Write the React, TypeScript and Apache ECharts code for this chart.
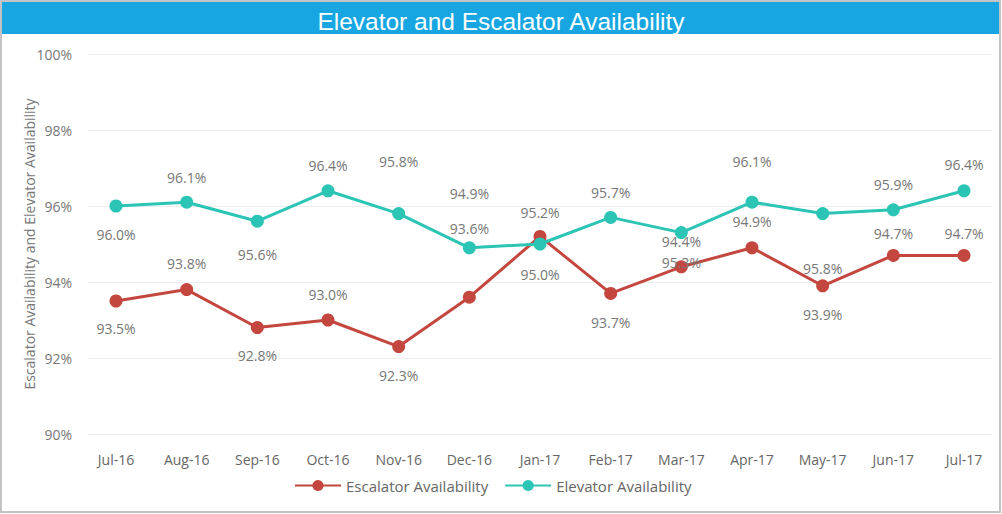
import React, { useEffect, useRef } from "react";
import * as echarts from "echarts";

const months = ["Jul-16", "Aug-16", "Sep-16", "Oct-16", "Nov-16", "Dec-16", "Jan-17", "Feb-17", "Mar-17", "Apr-17", "May-17", "Jun-17", "Jul-17"];
const escalator = [93.5, 93.8, 92.8, 93.0, 92.3, 93.6, 95.2, 93.7, 94.4, 94.9, 93.9, 94.7, 94.7];
const elevator = [96.0, 96.1, 95.6, 96.4, 95.8, 94.9, 95.0, 95.7, 95.3, 96.1, 95.8, 95.9, 96.4];
const yTicks = { min: 90, max: 100, step: 2 };

// label placement (px from point centre, negative = above)
const escalatorLabelOffsets = [27, -26, 28, -26, 29, -69, -24, 29, -25, -26, 29, -22, -22];
const elevatorLabelOffsets = [28, -25, 33, -25, -52, -54, 30, -25, 30, -41, 55, -25, -26];

const RED = "#C4473F";
const TEAL = "#2BC4B5";
const FONT = "'Open Sans', 'Noto Sans', sans-serif";

function mkData(vals: number[], offs: number[]) {
  return vals.map((v, i) => ({
    value: v,
    label: { offset: [0, offs[i]] },
  }));
}

export default function App() {
  const ref = useRef<HTMLDivElement>(null);
  useEffect(() => {
    if (!ref.current) return;
    const chart = echarts.init(ref.current, undefined, { renderer: "svg" });
    const labelStyle = {
      show: true,
      position: "inside",
      color: "#777777",
      fontSize: 14,
      fontFamily: FONT,
      formatter: (p: any) => p.value.toFixed(1) + "%",
    };
    chart.setOption({
      animation: false,
      backgroundColor: "#ffffff",
      textStyle: { fontFamily: FONT },
      title: {
        text: "Elevator and Escalator Availability",
        left: "center",
        top: 4,
        textStyle: { color: "#ffffff", fontSize: 24.5, fontWeight: "normal", fontFamily: "'Liberation Sans', Arial, sans-serif" },
        z: 20,
      },
      graphic: [
        { type: "rect", shape: { x: 1, y: 1, width: 999, height: 33 }, style: { fill: "#17A6E1" }, z: 0 },
        { type: "rect", shape: { x: 1, y: 1, width: 999, height: 511 }, style: { fill: "none", stroke: "#c3c3c3", lineWidth: 2 }, z: 1 },
      ],
      legend: {
        bottom: 16,
        left: 289,
        itemWidth: 46,
        itemHeight: 14,
        itemGap: 16,
        textStyle: { color: "#666666", fontSize: 15, fontFamily: FONT },
        data: ["Escalator Availability", "Elevator Availability"],
      },
      grid: [
        { left: 88, right: 10, top: 54, bottom: 80 },
        { left: 116, right: 38, top: 54, bottom: 80 },
      ],
      xAxis: [
        { type: "category", gridIndex: 0, data: months, show: false },
        {
          type: "category",
          gridIndex: 1,
          data: months,
          boundaryGap: false,
          axisLine: { show: false },
          axisTick: { show: false },
          axisLabel: { color: "#666666", fontSize: 14, margin: 18, fontFamily: FONT },
        },
      ],
      yAxis: [
        {
          type: "value",
          gridIndex: 0,
          min: yTicks.min,
          max: yTicks.max,
          interval: yTicks.step,
          axisLine: { show: false },
          axisTick: { show: false },
          splitLine: { lineStyle: { color: "#ededed", width: 1 } },
          axisLabel: { formatter: "{value}%", color: "#777777", fontSize: 14, margin: 16, fontFamily: FONT },
          name: "Escalator Availability and Elevator Availability",
          nameLocation: "middle",
          nameGap: 52,
          nameMoveOverlap: false,
          nameTextStyle: { color: "#777777", fontSize: 14, fontFamily: FONT },
        },
        {
          type: "value",
          gridIndex: 1,
          min: yTicks.min,
          max: yTicks.max,
          interval: yTicks.step,
          show: false,
          splitLine: { show: false },
        },
      ],
      series: [
        {
          name: "Escalator Availability",
          type: "line",
          xAxisIndex: 1,
          yAxisIndex: 1,
          data: mkData(escalator, escalatorLabelOffsets),
          color: RED,
          symbol: "circle",
          symbolSize: 13,
          lineStyle: { width: 3, color: RED },
          itemStyle: { color: RED },
          label: labelStyle,
          z: 3,
        },
        {
          name: "Elevator Availability",
          type: "line",
          xAxisIndex: 1,
          yAxisIndex: 1,
          data: mkData(elevator, elevatorLabelOffsets),
          color: TEAL,
          symbol: "circle",
          symbolSize: 13,
          lineStyle: { width: 3, color: TEAL },
          itemStyle: { color: TEAL },
          label: labelStyle,
          z: 4,
        },
      ],
    });
    return () => chart.dispose();
  }, []);
  return (
    <div
      ref={ref}
      style={{ position: "fixed", left: 0, top: 0, width: 1002, height: 514 }}
    />
  );
}
